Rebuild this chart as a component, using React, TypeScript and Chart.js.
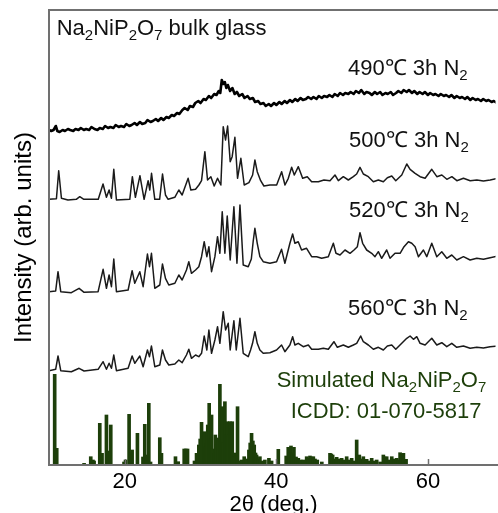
import React, { useEffect, useRef } from 'react';
import { Chart, registerables } from 'chart.js';

Chart.register(...registerables);

// x axis (2θ, deg.) tick labels
const xTicks = [20, 40, 60];

// 490 °C 3h N2 (amorphous, offset stacked intensity)
const pattern490: [number, number][] = [
  [10.0, 335], [10.3, 334], [10.6, 335], [10.9, 339], [11.1, 334], [11.4, 333], [11.8, 335], [12.1, 334], [12.5, 336], [12.8, 335],
  [13.2, 334], [13.5, 336], [13.9, 335], [14.2, 337], [14.6, 335], [14.9, 336], [15.3, 335], [15.6, 338], [16.0, 336], [16.4, 335],
  [16.7, 337], [17.1, 336], [17.4, 339], [17.8, 337], [18.1, 338], [18.5, 337], [18.8, 340], [19.2, 338], [19.5, 339], [19.9, 338],
  [20.2, 341], [20.6, 339], [20.9, 340], [21.3, 342], [21.6, 340], [22.0, 343], [22.3, 341], [22.7, 342], [23.0, 345], [23.4, 343],
  [23.7, 344], [24.1, 346], [24.4, 344], [24.8, 347], [25.1, 345], [25.5, 348], [25.8, 347], [26.2, 350], [26.5, 349], [26.9, 352],
  [27.2, 351], [27.6, 355], [27.9, 357], [28.3, 355], [28.6, 359], [29.0, 358], [29.3, 362], [29.7, 364], [30.0, 362], [30.4, 366],
  [30.7, 365], [31.1, 369], [31.4, 367], [31.8, 371], [32.1, 370], [32.4, 374], [32.6, 372], [32.8, 385], [33.0, 381], [33.2, 383],
  [33.4, 377], [33.6, 380], [33.9, 374], [34.2, 377], [34.5, 371], [34.8, 373], [35.1, 369], [35.5, 371], [35.8, 367], [36.2, 369],
  [36.5, 366], [36.9, 367], [37.2, 363], [37.6, 364], [37.9, 361], [38.3, 362], [38.6, 359], [39.0, 361], [39.3, 359], [39.7, 362],
  [40.0, 360], [40.4, 363], [40.7, 361], [41.1, 364], [41.4, 362], [41.8, 365], [42.1, 363], [42.5, 366], [42.8, 364], [43.2, 367],
  [43.5, 365], [43.9, 366], [44.2, 368], [44.6, 366], [44.9, 368], [45.3, 366], [45.6, 369], [46.0, 367], [46.3, 369], [46.7, 368],
  [47.0, 370], [47.4, 368], [47.7, 371], [48.1, 369], [48.4, 372], [48.8, 370], [49.1, 372], [49.5, 371], [49.8, 373], [50.2, 371],
  [50.5, 374], [50.9, 372], [51.2, 375], [51.6, 371], [51.9, 373], [52.3, 372], [52.6, 370], [53.0, 373], [53.3, 371], [53.7, 373],
  [54.0, 370], [54.4, 372], [54.7, 371], [55.1, 373], [55.4, 370], [55.8, 372], [56.1, 374], [56.5, 372], [56.8, 375], [57.2, 373],
  [57.5, 375], [57.9, 372], [58.2, 374], [58.6, 371], [58.9, 373], [59.3, 371], [59.6, 373], [60.0, 370], [60.3, 372], [60.7, 370],
  [61.0, 371], [61.4, 369], [61.7, 371], [62.1, 369], [62.4, 370], [62.8, 368], [63.1, 370], [63.5, 367], [63.8, 369], [64.2, 367],
  [64.5, 368], [64.9, 366], [65.2, 368], [65.6, 365], [65.9, 367], [66.3, 365], [66.6, 366], [67.0, 364], [67.3, 366], [67.7, 364],
  [68.0, 365], [68.4, 363], [68.7, 364], [69.1, 362], [69.4, 364], [69.8, 363], [70.0, 363],
];

// 500 °C 3h N2
const pattern500: [number, number][] = [
  [10, 265.7], [10.98, 266.3], [11.28, 294.3], [11.64, 266.7], [12.5, 265], [13.6, 265.7], [14.06, 268.3], [14.6, 265.7], [16.5, 265.7],
  [17.13, 281], [17.58, 267.7], [17.93, 275], [18.24, 266.7], [18.55, 295.7], [18.9, 265], [20.66, 265.7], [21.0, 288.3], [21.4, 267.7],
  [22.0, 289.3], [22.55, 265.7], [23.08, 284.3], [23.3, 275], [23.53, 291.7], [23.96, 265.7], [24.6, 265.7], [24.98, 291], [25.37, 270],
  [25.72, 265.7], [26.6, 267.7], [27.13, 275], [27.57, 270], [28.36, 286.7], [28.72, 275], [29.34, 275.7], [29.78, 280], [30.13, 284.3],
  [30.57, 313.3], [30.92, 285], [31.36, 288.3], [31.8, 279], [32.24, 286.7], [32.68, 280], [32.99, 338.3], [33.3, 325], [33.57, 339],
  [33.91, 303.3], [34.17, 308.3], [34.53, 327.7], [34.88, 286.7], [35.32, 306.7], [35.76, 280], [36.38, 282.3], [36.87, 290], [37.17, 305],
  [37.48, 293.3], [37.93, 284.3], [38.36, 279], [39.15, 280], [40.04, 280], [40.7, 293.3], [41.14, 280], [41.58, 286.7], [42.02, 297.7],
  [42.37, 290], [42.9, 298.3], [43.47, 286.7], [44.08, 288.3], [44.66, 283.3], [45.54, 283.3], [46.29, 285], [47.08, 284.3], [47.74, 290],
  [48.18, 284.3], [48.84, 288.3], [49.5, 285], [50.16, 288.3], [50.6, 291], [51.04, 297.7], [51.48, 291], [52.14, 288.3], [52.8, 283.3],
  [53.46, 285], [54.12, 283.3], [54.65, 287.3], [55.23, 289], [55.76, 284.3], [56.55, 290], [57.21, 301], [57.65, 295.7], [58.31, 291.7],
  [58.97, 288.3], [59.63, 286.7], [60.51, 295.7], [61.18, 288.3], [61.84, 290], [62.5, 285.7], [63.16, 288.3], [63.82, 284.3], [64.69, 286.7],
  [65.58, 284.3], [66.46, 285], [67.33, 284], [68.22, 285], [69.27, 286.7], [70, 287],
];

// 520 °C 3h N2
const pattern520: [number, number][] = [
  [10, 173.3], [10.88, 174], [11.19, 193.3], [11.55, 173.3], [12.95, 172.3], [13.97, 176.7], [14.63, 172.7], [16.48, 173.3], [17.14, 195.7],
  [17.58, 176.7], [17.93, 190], [18.24, 178.3], [18.55, 206], [18.9, 173.3], [20.44, 175], [20.97, 194.3], [21.32, 181.7], [21.98, 193.3],
  [22.42, 178.3], [22.99, 211], [23.26, 198.3], [23.52, 211.7], [23.96, 176.7], [24.62, 180], [24.97, 201], [25.37, 186.7], [25.81, 180],
  [26.61, 181.7], [27.13, 190], [27.57, 185], [28.14, 195], [28.45, 203.3], [28.8, 191.7], [29.34, 195], [29.77, 198.3], [30.13, 208.3],
  [30.48, 223.3], [30.83, 208.3], [31.1, 218.3], [31.45, 193.3], [31.89, 208.3], [32.24, 228.3], [32.55, 211.7], [32.86, 253.3], [33.21, 211.7],
  [33.52, 249], [33.91, 205], [34.4, 258.3], [34.8, 201.7], [35.2, 260], [35.63, 200], [36.29, 198.3], [36.7, 206], [36.95, 224], [37.17, 236.7],
  [37.48, 221.7], [37.83, 208.3], [38.27, 203.3], [39.15, 201.7], [40.03, 203.3], [40.69, 215.7], [41.13, 201.7], [41.79, 221.7], [42.15, 231],
  [42.45, 221.7], [42.89, 223.3], [43.33, 215], [43.99, 216.7], [44.66, 208.3], [45.32, 208.3], [45.98, 206.7], [46.86, 208.3], [47.52, 221.7],
  [47.87, 211.7], [48.4, 210], [49.06, 215], [49.72, 211.7], [50.25, 215], [50.69, 218.3], [51.04, 232.3], [51.39, 221.7], [51.92, 215],
  [52.58, 211.7], [53.02, 208.3], [53.46, 213.3], [53.9, 206.7], [54.56, 215], [55.0, 206.7], [55.66, 211.7], [56.33, 211.7], [56.85, 218.3],
  [57.43, 223.3], [57.87, 221.7], [58.31, 218.3], [58.75, 208.3], [59.41, 215], [59.85, 208.3], [60.51, 221.7], [61.17, 208.3], [61.83, 213.3],
  [62.49, 206.7], [63.15, 210], [63.81, 205], [64.69, 208.3], [65.57, 205], [66.45, 206.7], [67.33, 205.7], [68.21, 207.3], [69.27, 209], [70, 209],
];

// 560 °C 3h N2
const pattern560: [number, number][] = [
  [10, 94.3], [10.88, 95.7], [11.19, 109], [11.55, 94.3], [12.95, 93.3], [13.97, 96.7], [14.63, 94], [16.48, 95.7], [17.14, 103.3], [17.58, 95.7],
  [17.93, 101.7], [18.24, 96.7], [18.55, 110], [18.9, 94.3], [20.44, 96.7], [20.97, 109], [21.32, 101.7], [21.98, 109], [22.42, 98.3], [22.99, 115],
  [23.26, 108.3], [23.52, 119], [23.96, 98.3], [24.62, 100], [24.97, 115], [25.37, 105], [25.81, 100], [26.61, 101], [27.13, 105], [27.57, 102.3],
  [28.14, 110], [28.45, 115.7], [28.8, 106.7], [29.34, 110], [29.77, 108.3], [30.13, 111.7], [30.48, 129], [30.83, 115], [31.1, 135], [31.45, 111.7],
  [31.89, 125], [32.24, 138.3], [32.55, 121.7], [32.99, 153.3], [33.3, 135], [33.65, 141.7], [33.91, 115], [34.4, 144.3], [34.71, 115], [35.2, 146.7],
  [35.63, 111.7], [36.29, 108.3], [36.6, 115], [36.86, 121.7], [37.17, 133.3], [37.48, 121.7], [37.83, 115], [38.27, 111.7], [39.15, 112.3], [40.03, 115],
  [40.69, 120], [41.13, 113.3], [41.79, 120], [42.15, 128.3], [42.45, 120], [42.89, 121.7], [43.55, 118.3], [44.22, 120], [44.66, 115.7], [45.54, 115.7],
  [46.2, 116.7], [46.86, 115.7], [47.6, 123.3], [48.05, 117.7], [48.84, 120], [49.5, 117.7], [50.16, 120], [50.6, 121.7], [51.13, 129], [51.48, 123.3],
  [52.14, 120], [52.8, 115.7], [53.46, 117.7], [54.12, 115], [54.65, 119], [55.23, 120], [55.76, 115.7], [56.55, 121.7], [57.21, 126.7], [57.65, 129],
  [58.09, 125.7], [58.53, 128.3], [58.97, 121.7], [59.63, 120], [60.51, 126.7], [61.17, 120], [61.83, 122.3], [62.49, 118.3], [63.15, 121.7], [63.81, 117.7],
  [64.69, 119], [65.57, 116.7], [66.45, 117.7], [67.33, 117], [68.21, 118.3], [69.27, 119], [70, 119],
];

// Simulated Na2NiP2O7 stick pattern (ICDD 01-070-5817)
const simulatedSticks: [number, number][] = [
  [10.75, 90.7], [11.02, 16.7], [14.63, 1.7], [15.51, 8.3], [15.8, 5], [15.95, 4], [16.7, 41.7], [17.0, 11.7], [17.58, 50], [17.8, 14], [18.15, 40],
  [19.9, 3], [20.1, 5], [20.57, 50.7], [20.8, 12], [20.97, 15], [21.67, 31.7], [22.4, 8], [22.64, 40.7], [22.9, 10], [23.17, 61.7], [23.4, 3],
  [24.62, 27.3], [24.84, 11.7], [26.69, 8.3], [27.05, 3.3], [27.84, 16], [28.05, 16], [28.28, 16], [29.2, 4], [29.47, 11.7], [29.77, 20],
  [29.95, 26], [30.13, 42.7], [30.3, 28], [30.48, 33.3], [30.65, 18], [30.79, 21.7], [30.95, 40], [31.14, 61.7], [31.3, 26], [31.45, 50],
  [31.6, 16], [31.76, 11.7], [31.95, 30], [32.11, 20], [32.3, 27], [32.55, 80.7], [32.7, 36], [32.86, 58.3], [33.05, 22], [33.21, 63.3],
  [33.4, 30], [33.56, 43.3], [33.72, 30], [33.87, 43.3], [34.02, 36], [34.18, 43.3], [34.44, 8.3], [34.65, 12], [34.88, 58.3], [35.1, 4],
  [35.41, 5], [35.76, 8.3], [36.1, 6], [36.38, 15], [36.55, 22], [36.73, 31.7], [36.9, 24], [37.08, 20], [37.25, 12], [37.39, 10], [37.6, 6],
  [37.83, 8.3], [38.2, 4], [38.49, 5], [39.02, 6.7], [39.37, 4], [40.26, 15.7], [41.3, 9], [41.57, 17.7], [41.75, 12], [41.93, 19], [42.12, 12],
  [42.32, 17.7], [42.6, 8], [42.9, 6.7], [43.2, 5], [43.56, 5], [44.0, 8.3], [44.2, 7], [44.44, 9], [44.65, 8], [44.88, 8.3], [45.1, 6],
  [45.4, 5], [46.0, 3], [47.08, 11.7], [47.25, 11], [47.43, 10], [47.7, 6], [47.96, 7.7], [48.3, 6], [48.62, 6.7], [48.95, 5], [49.28, 8.3],
  [49.6, 5], [49.94, 6.7], [50.3, 4], [50.6, 25], [50.95, 10], [51.2, 6], [51.48, 8.3], [51.92, 5.7], [52.25, 4], [52.58, 6.7], [52.9, 4],
  [53.24, 5], [53.7, 3], [54.12, 10], [54.3, 8], [54.56, 8.3], [54.9, 5], [55.23, 8.3], [55.55, 6], [55.89, 6.7], [56.1, 5], [56.33, 12.3],
  [56.55, 11], [56.77, 11.7], [57.12, 5.7],
];

const FONT = '"Liberation Sans", Arial, Helvetica, sans-serif';
const AXIS_GRAY = '#707070';
const SIM_GREEN = '#1d3f0a';

type Part = [string, boolean];

function drawRich(ctx: CanvasRenderingContext2D, parts: Part[], x: number, y: number, color: string) {
  ctx.save();
  ctx.fillStyle = color;
  ctx.textBaseline = 'alphabetic';
  ctx.textAlign = 'left';
  let cx = x;
  for (const [txt, sub] of parts) {
    ctx.font = sub ? `15px ${FONT}` : `22px ${FONT}`;
    ctx.fillText(txt, cx, sub ? y + 5 : y);
    cx += ctx.measureText(txt).width;
  }
  ctx.restore();
}

const annotationPlugin = {
  id: 'xrdAnnotations',
  afterDraw(chart: any) {
    const { ctx, chartArea, scales } = chart;
    const xs = scales.x;
    const ys = scales.y;
    ctx.save();
    // blank the extreme right column of the plot (the reference frame is open on the right)
    ctx.fillStyle = '#ffffff';
    ctx.fillRect(chartArea.right - 2.5, chartArea.top + 1.5, 4, chartArea.bottom - chartArea.top - 3);
    ctx.strokeStyle = AXIS_GRAY;
    ctx.lineWidth = 2;
    // frame: top, left and bottom lines (open on the right)
    ctx.beginPath();
    ctx.moveTo(chartArea.right + 5, chartArea.top);
    ctx.lineTo(chartArea.left, chartArea.top);
    ctx.lineTo(chartArea.left, chartArea.bottom);
    ctx.lineTo(chartArea.right + 5, chartArea.bottom);
    ctx.stroke();
    ctx.lineWidth = 1.5;
    for (const t of xTicks) {
      const px = Math.round(xs.getPixelForValue(t)) + 0.5;
      ctx.beginPath();
      ctx.moveTo(px, chartArea.bottom);
      ctx.lineTo(px, chartArea.bottom - 6);
      ctx.stroke();
    }
    ctx.restore();

    const P = (t: number, v: number) => [xs.getPixelForValue(t), ys.getPixelForValue(v)];
    const black = '#111111';
    let [x, y] = P(11.02, 430);
    drawRich(ctx, [['Na', false], ['2', true], ['NiP', false], ['2', true], ['O', false], ['7', true], [' bulk glass', false]], x, y, black);
    [x, y] = P(49.46, 390);
    drawRich(ctx, [['490\u2103 3h N', false], ['2', true]], x, y, black);
    [x, y] = P(49.6, 318);
    drawRich(ctx, [['500\u2103 3h N', false], ['2', true]], x, y, black);
    [x, y] = P(49.6, 248.5);
    drawRich(ctx, [['520\u2103 3h N', false], ['2', true]], x, y, black);
    [x, y] = P(49.46, 150);
    drawRich(ctx, [['560\u2103 3h N', false], ['2', true]], x, y, black);
    [x, y] = P(40.04, 78);
    drawRich(ctx, [['Simulated Na', false], ['2', true], ['NiP', false], ['2', true], ['O', false], ['7', true]], x, y, SIM_GREEN);
    [x, y] = P(41.89, 47);
    drawRich(ctx, [['ICDD: 01-070-5817', false]], x, y, SIM_GREEN);
  },
};

const toXY = (arr: [number, number][]) => arr.map(([x, y]) => ({ x, y }));

export default function App() {
  const canvasRef = useRef<HTMLCanvasElement | null>(null);

  useEffect(() => {
    if (!canvasRef.current) return;
    Chart.defaults.font.family = FONT;
    const lineDs = (data: [number, number][], width: number, color: string) => ({
      type: 'line' as const,
      data: toXY(data),
      borderColor: color,
      borderWidth: width,
      pointRadius: 0,
      tension: 0,
      fill: false,
      borderJoinStyle: 'round' as const,
      order: 1,
    });
    const chart = new Chart(canvasRef.current, {
      type: 'line',
      data: {
        datasets: [
          {
            type: 'bar',
            data: toXY(simulatedSticks),
            backgroundColor: SIM_GREEN,
            borderWidth: 0,
            barThickness: 3,
            order: 2,
          } as any,
          lineDs(pattern560, 1.5, '#1a1a1a'),
          lineDs(pattern520, 1.5, '#1a1a1a'),
          lineDs(pattern500, 1.5, '#1a1a1a'),
          lineDs(pattern490, 2.6, '#000000'),
        ],
      },
      options: {
        animation: false,
        responsive: false,
        layout: { padding: { top: 10, right: 0, left: 0, bottom: 0 } },
        plugins: { legend: { display: false }, tooltip: { enabled: false } },
        scales: {
          x: {
            type: 'linear',
            min: 10,
            max: 69.25,
            offset: false,
            afterFit: (s: any) => { s.height = 48; },
            afterBuildTicks: (s: any) => { s.ticks = xTicks.map((v) => ({ value: v })); },
            grid: { display: true, offset: false, drawOnChartArea: false, drawTicks: false },
            border: { display: false },
            ticks: { color: '#000', font: { size: 22 }, padding: 4, maxRotation: 0, autoSkip: false },
            title: { display: true, text: '2\u03b8 (deg.)', color: '#000', font: { size: 22 }, padding: { top: 0, bottom: -5 } },
          },
          y: {
            type: 'linear',
            min: 0,
            max: 455,
            afterFit: (s: any) => { s.width = 49; },
            grid: { display: true, drawOnChartArea: false, drawTicks: false },
            border: { display: false },
            ticks: { display: false },
            title: { display: true, text: 'Intensity (arb. units)', color: '#000', font: { size: 24 }, padding: { top: 10, bottom: 0 } },
          },
        },
      },
      plugins: [annotationPlugin],
    });
    return () => chart.destroy();
  }, []);

  return (
    <div style={{ position: 'fixed', left: 0, top: 0, width: 498, height: 513, overflow: 'hidden', background: '#fff' }}>
      <canvas ref={canvasRef} width={498} height={513} style={{ display: 'block', width: 498, height: 513 }} />
    </div>
  );
}
